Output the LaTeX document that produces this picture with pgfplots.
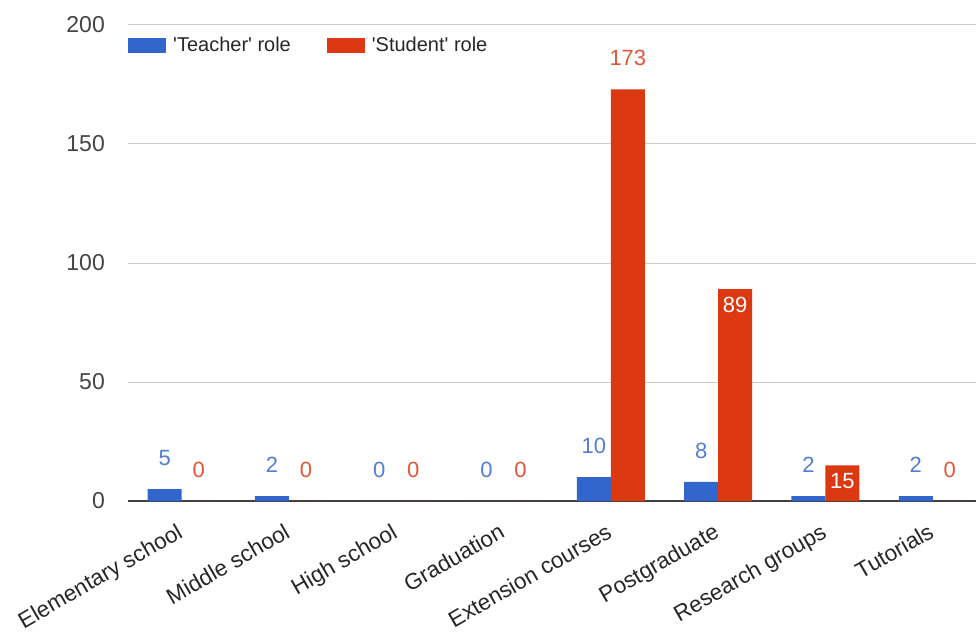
\documentclass[border=0pt]{standalone}
\usepackage{pgfplots}
\usepackage{pgfplotstable}
\pgfplotsset{compat=1.18}
\usepackage{fontspec}
\setmainfont{Liberation Sans}

\definecolor{tblue}{HTML}{3366CC}
\definecolor{sred}{HTML}{DC3912}
\definecolor{gridgray}{HTML}{CCCCCC}
\definecolor{txtgray}{HTML}{444444}

% inside = label drawn inside the bar top, pct = white share of the label colour
\pgfplotstableread{
x teacher student inside pct
0 5  0   0 0
1 2  0   0 0
2 0  0   0 0
3 0  0   0 0
4 10 173 0 0
5 8  89  1 100
6 2  15  1 100
7 2  0   0 0
}\roles

\begin{document}
\begin{tikzpicture}
	\begin{axis}[
		at={(128pt,131pt)}, anchor=south west,
		width=848pt, height=476pt, scale only axis,
		ybar=0pt, bar width=34pt,
		xmin=-0.5, xmax=7.403,
		ymin=0, ymax=200,
		xtick={0,...,7},
		xticklabels={Elementary school, Middle school, High school, Graduation,
			Extension courses, Postgraduate, Research groups, Tutorials},
		ytick={0,50,100,150,200},
		axis line style={draw=none},
		major tick length=0pt,
		ymajorgrids,
		grid style={gridgray, line width=1pt},
		extra y ticks={0},
		extra y tick labels={},
		extra y tick style={grid style={draw=black!75, line width=1.3pt}},
		/pgf/number format/assume math mode=true,
		yticklabel style={font=\fontsize{23}{23}\selectfont, text=txtgray,
			inner sep=0pt, anchor=east, xshift=-23pt},
		xticklabel style={font=\fontsize{22.5}{22.5}\selectfont, text=black!85,
			rotate=30, anchor=north east, inner sep=0pt, xshift=-15.5pt, yshift=-15.5pt},
		legend columns=2,
		legend style={at={(0,1)}, anchor=north west, draw=none, fill=none,
			inner sep=0pt, yshift=-10pt,
			font=\fontsize{20}{20}\selectfont, text=black!85,
			/tikz/every odd column/.append style={column sep=5pt},
			/tikz/every even column/.append style={column sep=34pt}},
		legend image code/.code={\fill[#1] (0pt,-7.5pt) rectangle (38pt,7.5pt);},
		]

		\addplot[fill=tblue, draw=none,
			nodes near coords,
			every node near coord/.append style={anchor=center, yshift=31pt,
				text=tblue!85!white, font=\fontsize{22}{22}\selectfont},
		] table[x=x, y=teacher] {\roles};

		\addplot[fill=sred, draw=none,
			nodes near coords,
			visualization depends on={\thisrow{inside} \as \inside},
			visualization depends on={\thisrow{pct} \as \inpct},
			every node near coord/.append style={anchor=center,
				yshift={31pt-47pt*\inside},
				text=white!\inpct!sred!85!white, font=\fontsize{22}{22}\selectfont},
		] table[x=x, y=student] {\roles};

		\legend{\textquotesingle Teacher\textquotesingle{} role,
			\textquotesingle Student\textquotesingle{} role}
	\end{axis}
	\pgfresetboundingbox
	\useasboundingbox (0,0) rectangle (976pt,632pt);
\end{tikzpicture}
\end{document}
